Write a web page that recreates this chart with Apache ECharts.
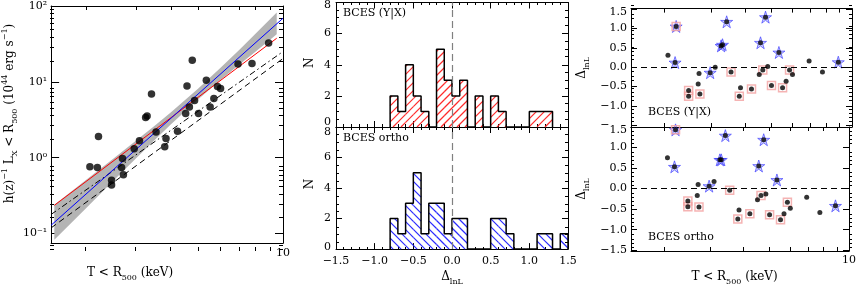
<!DOCTYPE html>
<html><head><meta charset="utf-8">
<script src="https://cdn.jsdelivr.net/npm/echarts@6/dist/echarts.min.js"></script>
<style>html,body{margin:0;padding:0;background:#fff}#c{width:859px;height:287px}</style>
</head><body><div id="c"></div>
<script>
// ================= DATA =================
const clusterT = [2.06,2.19,2.21,2.46,2.46,2.67,2.69,2.71,2.96,3.09,3.25,3.29,3.41,3.54,3.80,3.84,4.22,4.51,4.56,4.65,4.76,4.85,5.01,5.34,5.51,5.68,5.85,6.00,6.92,7.76,8.89];
const clusterL = [0.763,0.741,1.90,0.506,0.437,0.741,0.977,0.598,1.31,1.67,3.38,3.56,6.91,2.18,1.40,1.79,2.24,3.84,8.84,4.67,19.3,5.69,3.84,10.5,4.67,6.03,8.66,8.17,17.2,17.5,32.5];
const residYX    = [0.31,0.12,1.05,-0.60,-0.75,-0.43,-0.16,-0.69,-0.14,0.00,0.55,0.58,1.17,-0.12,-0.75,-0.53,-0.56,-0.19,0.63,-0.07,1.29,0.02,-0.47,0.38,-0.53,-0.36,-0.07,-0.19,0.16,-0.12,0.13];
const residOrtho = [0.75,0.53,1.43,-0.30,-0.44,-0.17,0.10,-0.45,0.06,0.17,0.70,0.70,1.29,-0.04,-0.74,-0.52,-0.61,-0.27,0.55,-0.17,1.19,-0.13,-0.64,0.21,-0.76,-0.61,-0.33,-0.48,-0.21,-0.58,-0.42];
const starFlag = [0,1,1,0,0,0,0,0,1,0,1,1,1,0,0,0,0,0,1,0,1,0,0,1,0,0,0,0,0,0,1];
const boxFlag  = [0,0,1,1,1,0,0,1,0,0,0,0,0,1,1,0,1,0,0,1,0,0,1,0,1,0,1,0,0,0,0];
const redT = [1.54, 9.5],  redL = [0.236, 37.6];
const blueT = [1.5, 10],   blueL = [0.129, 69.0];
const dashDotT = [1.5, 10], dashDotL = [0.179, 25.1];
const dashedT = [1.5, 10],  dashedL = [0.119, 20.3];
const bandT  = [1.54, 2.0, 2.5, 3.0, 3.5, 4.0, 5.0, 6.0, 7.0, 8.0, 9.5];
const bandLo = [0.0828, 0.218, 0.500, 0.977, 1.714, 2.76, 5.92, 10.6, 16.9, 25.1, 42.3];
const bandHi = [0.240, 0.512, 0.980, 1.675, 2.65, 3.99, 8.17, 15.3, 26.5, 43.3, 82.4];
const binLeft = [-0.8,-0.7,-0.6,-0.5,-0.4,-0.3,-0.2,-0.1,0.0,0.1,0.2,0.3,0.4,0.5,0.6,0.7,0.8,0.9,1.0,1.1,1.2,1.3,1.4];
const binWidth = 0.1;
const histYX    = [2,1,4,2,1,0,5,3,2,3,0,2,0,2,1,0,0,0,1,1,1];
const histOrtho = [2,1,3,5,1,3,3,1,2,2,0,0,0,2,2,1,0,0,0,1,1,0,1];
const logXLabels = [10];
const logYLabels = {'-1':'10⁻¹','0':'10⁰','1':'10¹','2':'10²'};
const histXTicks = [-1.5,-1.0,-0.5,0.0,0.5,1.0,1.5];
const histYTicks = [0,2,4,6,8];
const residTicks = [-1.5,-1.0,-0.5,0.0,0.5,1.0,1.5];

// ================= BUILD =================
const FONT = 'DejaVu Serif';
const L10 = Math.log10;
const opt = {animation:false, backgroundColor:'#fff', textStyle:{fontFamily:FONT},
  grid:[], xAxis:[], yAxis:[], series:[], title:[], graphic:[]};

function grid(l,t,w,h){ opt.grid.push({left:l,top:t,width:w,height:h,show:false}); return opt.grid.length-1; }
const tok = (o)=>Object.assign({fontFamily:FONT,fontSize:11,color:'#000'},o);
function titleStyle(pad){
  return {fontFamily:FONT,fontSize:12,color:'#000',lineHeight:18,padding:pad||0,
    rich:{sup:{fontFamily:FONT,fontSize:8,lineHeight:9,verticalAlign:'top',color:'#000'},
          sub:{fontFamily:FONT,fontSize:8,lineHeight:9,verticalAlign:'bottom',color:'#000'}}};
}
function mkAxis(list, gi, pos, min, max, o){
  o = o||{};
  list.push({gridIndex:gi,type:'value',position:pos,min:min,max:max,z:o.z||0,silent:true,
    axisLine:{show:o.line!==false,onZero:false,lineStyle:{color:'#000',width:1}},
    axisTick:{show:!!o.ticks,inside:true,length:o.len||5,customValues:o.ticks,lineStyle:{color:'#000',width:1}},
    axisLabel:{show:!!o.labels,customValues:o.labels,formatter:o.fmt,color:'#000',fontFamily:FONT,fontSize:11,
      margin:o.margin==null?5:o.margin,rich:o.rich,showMinLabel:true,showMaxLabel:true,hideOverlap:false},
    splitLine:{show:false},minorTick:{show:false},minorSplitLine:{show:false},
    name:o.name,nameLocation:'middle',nameGap:o.nameGap,nameRotate:o.nameRotate,nameTextStyle:o.nameStyle});
  return list.length-1;
}
const minusFmt = (d)=> (v)=> { const s = Math.abs(v).toFixed(d); return (v < -1e-9 ? '−' : '') + s; };

// ---------- Panel 1 ----------
const xLmin = L10(1.5), xLmax = 1;
const xMinor = [2,3,4,5,6,7,8,9].map(L10);
const yLmin = L10(0.075), yLmax = 2;
const yMajor = [-1,0,1,2];
const yMinor = [];
[-2,-1,0,1].forEach(d=>{ for(let k=2;k<=9;k++){ const v=d+L10(k); if(v>yLmin && v<yLmax) yMinor.push(v);} });
const P1 = [50,6,233,245];
const g1 = grid(...P1), g1b = grid(...P1);
const p1x = mkAxis(opt.xAxis,g1,'bottom',xLmin,xLmax,{labels:logXLabels.map(L10),fmt:v=>String(Math.round(Math.pow(10,v))),margin:5,
  name:'T < R{sub|500} (keV)',nameGap:18,nameStyle:titleStyle([0,74,0,0])});
mkAxis(opt.xAxis,g1,'top',xLmin,xLmax,{ticks:xMinor,len:4});
const p1y = mkAxis(opt.yAxis,g1,'left',yLmin,yLmax,{ticks:yMajor,len:8,labels:yMajor,fmt:v=>logYLabels[String(Math.round(v))],margin:4,
  name:'h(z){sup|−1} L{sub|X} < R{sub|500} (10{sup|44} erg s{sup|−1})',nameRotate:90,nameGap:28,nameStyle:titleStyle([0,0,0,22])});
mkAxis(opt.yAxis,g1,'right',yLmin,yLmax,{ticks:yMajor,len:8});
mkAxis(opt.xAxis,g1b,'bottom',xLmin,xLmax,{ticks:xMinor,len:4,line:false});
mkAxis(opt.yAxis,g1b,'left',yLmin,yLmax,{ticks:yMinor,len:4,line:false});
mkAxis(opt.yAxis,g1b,'right',yLmin,yLmax,{ticks:yMinor,len:4,line:false});

opt.series.push({type:'custom',xAxisIndex:p1x,yAxisIndex:p1y,silent:true,z:1,
  data:bandT.map((t,i)=>[L10(t),L10(bandLo[i]),L10(bandHi[i])]),
  renderItem:(params,api)=>{
    if(params.dataIndex!==0) return null;
    const up=[],lo=[];
    for(let i=0;i<bandT.length;i++){ up.push(api.coord([L10(bandT[i]),L10(bandHi[i])])); lo.push(api.coord([L10(bandT[i]),L10(bandLo[i])])); }
    return {type:'polygon',shape:{points:up.concat(lo.reverse())},style:{fill:'#b4b4b4'}};
  }});
function fitLine(T,L,color,type){
  opt.series.push({type:'line',xAxisIndex:p1x,yAxisIndex:p1y,silent:true,z:2,symbol:'none',
    data:T.map((t,i)=>[L10(t),L10(L[i])]),lineStyle:{color:color,width:1,type:type}});
}
fitLine(dashedT,dashedL,'#000',[6,4]);
fitLine(dashDotT,dashDotL,'#000',[6,3,1.5,3]);
fitLine(redT,redL,'#ff0000','solid');
fitLine(blueT,blueL,'#0000ff','solid');
opt.series.push({type:'scatter',xAxisIndex:p1x,yAxisIndex:p1y,silent:true,z:3,symbol:'circle',symbolSize:7.5,
  itemStyle:{color:'#000'},data:clusterT.map((t,i)=>[L10(t),L10(clusterL[i])])});

// ---------- Panel 2 ----------
const hxMinor=[]; for(let i=-15;i<=15;i++) if(i%5) hxMinor.push(i/10);
const hyMinor=[]; for(let i=1;i<16;i++) if(i%4) hyMinor.push(i/2);
// hatch strokes drawn as thin filled parallelograms inside a bin rectangle
function hatchLines(x0,y0,x1,y1,s,slash,color){
  const ch=[], h=0.42;
  if(slash){ // "/" : x + y = c
    for(let c=Math.ceil((x0+y0)/s)*s; c<=x1+y1; c+=s){
      const xa=Math.max(x0,c-y1), xb=Math.min(x1,c-y0);
      if(xb-xa>0.3) ch.push({type:'polygon',shape:{points:[[xa-h,c-xa-h],[xb-h,c-xb-h],[xb+h,c-xb+h],[xa+h,c-xa+h]]},style:{fill:color}});
    }
  } else {   // "\" : y - x = c
    for(let c=Math.ceil((y0-x1)/s)*s; c<=y1-x0; c+=s){
      const xa=Math.max(x0,y0-c), xb=Math.min(x1,y1-c);
      if(xb-xa>0.3) ch.push({type:'polygon',shape:{points:[[xa+h,xa+c-h],[xb+h,xb+c-h],[xb-h,xb+c+h],[xa-h,xa+c+h]]},style:{fill:color}});
    }
  }
  return {type:'group',children:ch};
}
function histPanel(rect, counts, color, slash, isBottom, yRich, yFmt){
  const g=grid(...rect), gb=grid(...rect);
  const xi = mkAxis(opt.xAxis,g,'bottom',-1.5,1.5, isBottom ?
     {ticks:histXTicks,len:6,labels:histXTicks,fmt:minusFmt(1),margin:7,name:'Δ{sub|lnL}',nameGap:15,nameStyle:titleStyle(0)} :
     {ticks:histXTicks,len:6});
  mkAxis(opt.xAxis,g,'top',-1.5,1.5,{ticks:histXTicks,len:6});
  const yi = mkAxis(opt.yAxis,g,'left',0,8,{ticks:histYTicks,len:6,labels:histYTicks,fmt:yFmt,rich:yRich,margin:5,
     name:'N',nameRotate:90,nameGap:19,nameStyle:{fontFamily:FONT,fontSize:12,color:'#000',lineHeight:14,padding:[0,0,0,isBottom?8:4]}});
  mkAxis(opt.yAxis,g,'right',0,8,{ticks:histYTicks,len:6});
  mkAxis(opt.xAxis,gb,'bottom',-1.5,1.5,{ticks:hxMinor,len:3,line:false});
  mkAxis(opt.xAxis,gb,'top',-1.5,1.5,{ticks:hxMinor,len:3,line:false});
  mkAxis(opt.yAxis,gb,'left',0,8,{ticks:hyMinor,len:3,line:false});
  mkAxis(opt.yAxis,gb,'right',0,8,{ticks:hyMinor,len:3,line:false});
  const bins = [];
  counts.forEach((c,i)=>{ if(c>0) bins.push([binLeft[i], binLeft[i]+binWidth, c]); });
  opt.series.push({type:'custom',xAxisIndex:xi,yAxisIndex:yi,silent:true,z:1,data:bins,
    renderItem:(p,api)=>{ const a=api.coord([api.value(0),api.value(2)]), b=api.coord([api.value(1),0]);
      return hatchLines(a[0],a[1],b[0],b[1],8,slash,color); }});
  const outline=[[binLeft[0],0]];
  counts.forEach((c,i)=>outline.push([binLeft[i],c]));
  outline.push([binLeft[counts.length-1]+binWidth,0]);
  opt.series.push({type:'line',step:'end',xAxisIndex:xi,yAxisIndex:yi,silent:true,z:2,symbol:'none',data:outline,
    lineStyle:{color:'#000',width:1.5},
    markLine:{silent:true,symbol:['none','none'],label:{show:false},lineStyle:{color:'#808080',type:[7,4],width:1.2},data:[{xAxis:0}]}});
}
histPanel([336,2,232,125], histYX, '#ff2a2a', true, false,
  {up:tok({padding:[0,0,10,0]}), dn:tok({padding:[6,0,0,0]})},
  v=> v===0?'{up|0}': v===8?'{dn|8}': String(v));
histPanel([336,127,232,123], histOrtho, '#2a2aff', false, true,
  {up:tok({padding:[0,0,3,0]}), dn:tok({padding:[11,0,0,0]})},
  v=> v===0?'{up|0}': v===8?'{dn|8}': String(v));

// ---------- Panel 3 ----------
const rMinor=[]; for(let i=-15;i<=15;i++) if(i%5) rMinor.push(i/10);
const STAR='path://M50,2 L61.8,38.2 L99,38.2 L69,60.5 L80.4,96 L50,74 L19.6,96 L31,60.5 L1,38.2 L38.2,38.2 Z';
function residPanel(rect, rng, resid, isBottom, z){
  const g=grid(...rect), gb=grid(...rect);
  const xi = mkAxis(opt.xAxis,g,'bottom',xLmin,xLmax, isBottom ?
     {ticks:xMinor,len:4,labels:logXLabels.map(L10),fmt:v=>String(Math.round(Math.pow(10,v))),margin:4,z:z,
      name:'T < R{sub|500} (keV)',nameGap:17,nameStyle:titleStyle([0,11,0,0])} : {ticks:xMinor,len:4,z:z});
  mkAxis(opt.xAxis,g,'top',xLmin,xLmax,{ticks:xMinor,len:4,z:z});
  const yi = mkAxis(opt.yAxis,g,'left',rng[0],rng[1],{ticks:residTicks,len:6,labels:residTicks,margin:4,z:z,
     fmt:v=> Math.abs(v-1.5)<1e-9 ? '{dn|1.5}' : minusFmt(1)(v),
     rich:{dn:tok({padding:[isBottom?6:7,0,0,0],backgroundColor:'#fff'})},
     name:'Δ{sub|lnL}',nameRotate:90,nameGap:40,nameStyle:titleStyle(0)});
  mkAxis(opt.yAxis,g,'right',rng[0],rng[1],{ticks:residTicks,len:6,z:z});
  mkAxis(opt.xAxis,gb,'bottom',xLmin,xLmax,{line:false});
  mkAxis(opt.yAxis,gb,'left',rng[0],rng[1],{ticks:rMinor,len:3,line:false});
  mkAxis(opt.yAxis,gb,'right',rng[0],rng[1],{ticks:rMinor,len:3,line:false});
  const stars=[],boxes=[],dots=[];
  clusterT.forEach((t,i)=>{ const p=[L10(t),resid[i]]; dots.push(p); if(starFlag[i]) stars.push(p); if(boxFlag[i]) boxes.push(p); });
  opt.series.push({type:'scatter',xAxisIndex:xi,yAxisIndex:yi,silent:true,z:2,data:stars,symbol:STAR,symbolSize:12,
    itemStyle:{color:'rgba(120,120,255,0.45)',borderColor:'#3333ff',borderWidth:0.8}});
  opt.series.push({type:'scatter',xAxisIndex:xi,yAxisIndex:yi,silent:true,z:3,data:boxes,symbol:'rect',symbolSize:8,
    itemStyle:{color:'rgba(0,0,0,0)',borderColor:'#f2a0a0',borderWidth:1.5}});
  opt.series.push({type:'scatter',xAxisIndex:xi,yAxisIndex:yi,silent:true,z:4,data:dots,symbol:'circle',symbolSize:5,
    itemStyle:{color:'#000'},
    markLine:{silent:true,symbol:['none','none'],label:{show:false},lineStyle:{color:'#000',type:[6,4],width:1},data:[{yAxis:0}]}});
}
residPanel([631,1,221,126],[-1.54,1.51],residYX,false,0);
residPanel([631,127,221,125],[-1.52,1.50],residOrtho,true,2);

const lab = (text,left,top)=>opt.title.push({text:text,left:left,top:top,padding:0,
  textStyle:{fontFamily:FONT,fontSize:11,fontWeight:'normal',color:'#000'}});
lab('BCES (Y|X)',343,8);
lab('BCES ortho',343,133);
lab('BCES (Y|X)',648,107);
lab('BCES ortho',648,232);

opt.graphic.push({type:'rect',z:1,silent:true,shape:{x:595,y:127.5,width:34,height:9},style:{fill:'#fff'}});

const chart = echarts.init(document.getElementById('c'),null,{renderer:'canvas',width:859,height:287});
chart.setOption(opt);
</script></body></html>
